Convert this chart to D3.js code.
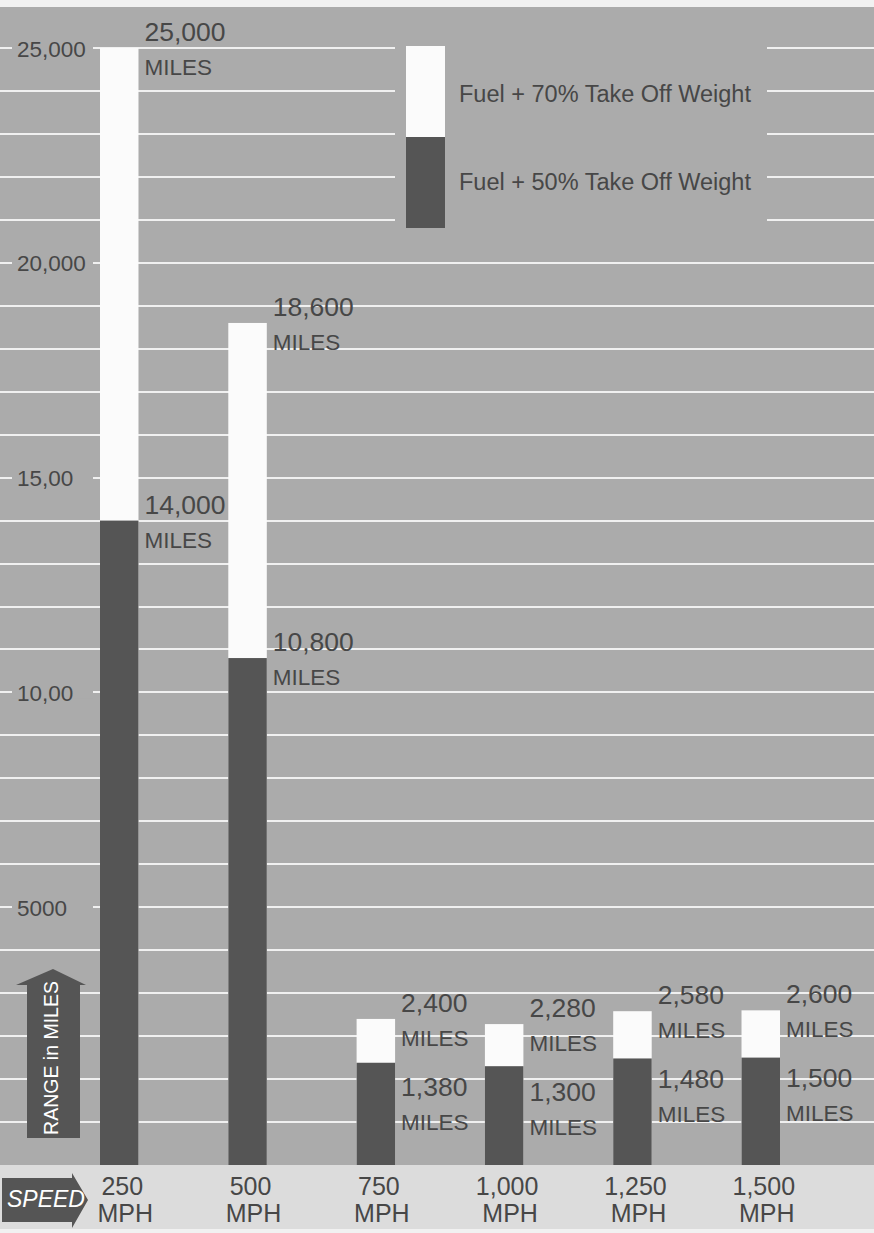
<!DOCTYPE html>
<html>
<head>
<meta charset="utf-8">
<script src="https://cdn.jsdelivr.net/npm/d3@7"></script>
<style>
  html, body { margin: 0; padding: 0; background: #f0f0f0; }
  svg { display: block; font-family: "Liberation Sans", Arial, Helvetica, sans-serif; }
</style>
</head>
<body>
<svg id="chart" width="874" height="1233"></svg>
<script>
// ---- data ----
const speeds = ["250", "500", "750", "1,000", "1,250", "1,500"];
const speedUnit = "MPH";
const range70 = [25000, 18600, 2400, 2280, 2580, 2600];   // Fuel + 70% Take Off Weight
const range50 = [14000, 10800, 1380, 1300, 1480, 1500];   // Fuel + 50% Take Off Weight
const yTickValues = [5000, 10000, 15000, 20000, 25000];
const yTickLabels = ["5000", "10,00", "15,00", "20,000", "25,000"];
const legendLabels = ["Fuel + 70% Take Off Weight", "Fuel + 50% Take Off Weight"];
const unitLabel = "MILES";
const yTitle = "RANGE in MILES";
const xTitle = "SPEED";

// ---- styles ----
const W = 874, H = 1233;
const panelColor = "#ababab";
const bandColor = "#dcdcdc";
const gridColor = "#f0f0f0";
const lightBar = "#fbfbfb";
const darkBar = "#555555";
const textColor = "#474747";

const plotTop = 7, plotBottom = 1165, bandBottom = 1229;

const svg = d3.select("#chart");

// backgrounds
svg.append("rect").attr("x", 0).attr("y", 0).attr("width", W).attr("height", H).attr("fill", "#f1f1f1");
svg.append("rect").attr("x", 0).attr("y", plotTop).attr("width", W).attr("height", plotBottom - plotTop).attr("fill", panelColor);
svg.append("rect").attr("x", 0).attr("y", plotBottom).attr("width", W).attr("height", bandBottom - plotBottom).attr("fill", bandColor);

// scales
const y = d3.scaleLinear().domain([-1000, 25000]).range([plotBottom, 48]);
const x = d3.scaleBand().domain(speeds).range([100, 780]).paddingInner(0.7).paddingOuter(0);

// gridlines every 1000 miles
const gridVals = y.ticks(26).filter(v => v >= 0);
svg.append("g").selectAll("line").data(gridVals).join("line")
  .attr("x1", 0).attr("x2", W)
  .attr("y1", d => Math.round(y(d))).attr("y2", d => Math.round(y(d)))
  .attr("stroke", gridColor).attr("stroke-width", 2);

// knock-outs behind y labels and legend
svg.append("g").selectAll("rect").data(yTickValues).join("rect")
  .attr("x", 12).attr("width", 81)
  .attr("y", d => y(d) - 6).attr("height", 12)
  .attr("fill", panelColor);
svg.append("rect").attr("x", 395).attr("y", 30).attr("width", 372).attr("height", 212).attr("fill", panelColor);

// y axis labels
const yAxis = d3.axisLeft(y).tickValues(yTickValues).tickSize(0)
  .tickFormat((d, i) => yTickLabels[i]);
const gy = svg.append("g").call(yAxis);
gy.select(".domain").remove();
gy.selectAll("text")
  .attr("x", 17).attr("dy", "0.36em")
  .attr("text-anchor", "start")
  .attr("fill", textColor)
  .style("font-size", "22.5px")
  .style("font-family", "'Liberation Sans', Arial, Helvetica, sans-serif");

// bars
const rows = speeds.map((s, i) => ({ s, hi: range70[i], lo: range50[i] }));
const bars = svg.append("g");
bars.selectAll("rect.hi").data(rows).join("rect").attr("class", "hi")
  .attr("x", d => x(d.s)).attr("width", x.bandwidth())
  .attr("y", d => y(d.hi)).attr("height", d => plotBottom - y(d.hi))
  .attr("fill", lightBar);
bars.selectAll("rect.lo").data(rows).join("rect").attr("class", "lo")
  .attr("x", d => x(d.s)).attr("width", x.bandwidth())
  .attr("y", d => y(d.lo)).attr("height", d => plotBottom - y(d.lo))
  .attr("fill", darkBar);

// value labels
const fmt = d3.format(",");
const labels = svg.append("g").attr("fill", textColor);
rows.forEach(d => {
  const lx = x(d.s) + x.bandwidth() + 6;
  const hiBase = y(d.hi) - 7;
  const loBase = Math.max(y(d.lo) - 7, hiBase + 84);
  [[d.hi, hiBase], [d.lo, loBase]].forEach(([v, b]) => {
    labels.append("text").attr("x", lx).attr("y", b)
      .style("font-size", "26.5px").text(fmt(v));
    labels.append("text").attr("x", lx).attr("y", b + 34)
      .style("font-size", "22.5px").text(unitLabel);
  });
});

// legend
const legend = svg.append("g");
const legendColors = [lightBar, darkBar];
legend.selectAll("rect").data(legendLabels).join("rect")
  .attr("x", 406).attr("width", 39)
  .attr("y", (d, i) => 46 + i * 91).attr("height", 91)
  .attr("fill", (d, i) => legendColors[i]);
legend.selectAll("text").data(legendLabels).join("text")
  .attr("x", 459).attr("y", (d, i) => 102 + i * 88)
  .attr("fill", textColor).style("font-size", "23.5px")
  .text(d => d);

// x axis labels
const xAxis = d3.axisBottom(x).tickSize(0).tickFormat(d => d);
const gx = svg.append("g").attr("transform", `translate(0,${plotBottom})`).call(xAxis);
gx.select(".domain").remove();
gx.selectAll(".tick text").each(function(d) {
  const t = d3.select(this);
  t.text(null).attr("y", 0).attr("dy", null)
    .attr("fill", textColor)
    .style("font-size", "25px")
    .style("font-family", "'Liberation Sans', Arial, Helvetica, sans-serif");
  t.append("tspan").attr("x", 3).attr("y", 30).text(d);
  t.append("tspan").attr("x", 6).attr("y", 57).text(speedUnit);
});

// SPEED arrow
svg.append("path")
  .attr("d", "M2,1178 L72,1178 L72,1173 L88,1200 L72,1228 L72,1222 L2,1222 Z")
  .attr("fill", darkBar);
svg.append("text").attr("x", 7).attr("y", 1207)
  .attr("fill", "#ffffff").style("font-size", "23px").style("font-style", "italic")
  .text(xTitle);

// RANGE arrow
svg.append("path")
  .attr("d", "M27,1138 L27,985 L16,985 L53,969 L86,985 L80,985 L80,1138 Z")
  .attr("fill", darkBar);
svg.append("text")
  .attr("transform", "translate(58,1058) rotate(-90)")
  .attr("text-anchor", "middle")
  .attr("fill", "#ffffff").style("font-size", "19.5px")
  .text(yTitle);
</script>
</body>
</html>
